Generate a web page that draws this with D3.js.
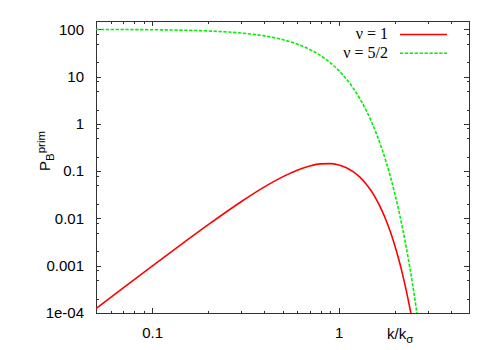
<!DOCTYPE html>
<html>
<head>
<meta charset="utf-8">
<script src="https://cdn.jsdelivr.net/npm/d3@7"></script>
<style>
  html, body { margin: 0; padding: 0; background: #fff; }
  svg { display: block; }
  text { font-family: "Liberation Sans", Arial, sans-serif; fill: #000; }
  text.serif { font-family: "Liberation Serif", "Times New Roman", serif; }
</style>
</head>
<body>
<svg id="chart" width="500" height="350"></svg>
<script>
// ---- data ----
const kValues = [0.05, 0.07, 0.1, 0.15, 0.2, 0.3, 0.4, 0.5, 0.6, 0.7, 0.8, 0.9, 1.0, 1.1, 1.2, 1.3, 1.4, 1.5, 1.6, 1.7, 1.8, 1.9, 2.0, 2.1, 2.2, 2.3, 2.4, 2.45];
const nu1Values = [1.244e-4, 3.40e-4, 9.80e-4, 3.227e-3, 7.385e-3, 0.02255, 0.04647, 0.07582, 0.10514, 0.12873, 0.14235, 0.14427, 0.13534, 0.11836, 0.09700, 0.07481, 0.05444, 0.03749, 0.02448, 0.01518, 0.008946, 0.005019, 0.002684, 0.001369, 6.660e-4, 3.094e-4, 1.373e-4, 9.0e-5];

const kValues2 = [0.05, 0.1, 0.15, 0.2, 0.3, 0.4, 0.5, 0.6, 0.7, 0.8, 0.9, 1.0, 1.1, 1.2, 1.3, 1.4, 1.5, 1.6, 1.7, 1.8, 1.9, 2.0, 2.1, 2.2, 2.3, 2.4, 2.5, 2.6, 2.7];
const nu52Values = [99.50, 98.02, 95.60, 92.31, 83.53, 72.61, 60.65, 48.68, 37.53, 27.80, 19.79, 13.53, 8.892, 5.613, 3.405, 1.984, 1.111, 0.5976, 0.3089, 0.1534, 0.07318, 0.03355, 0.01478, 0.006255, 0.002543, 9.93e-4, 3.727e-4, 1.344e-4, 4.66e-5];

const seriesNames = ["ν = 1", "ν = 5/2"];
const xTickValues = [0.1, 1];
const xTickLabels = ["0.1", "1"];
const yTickValues = [1e-4, 1e-3, 1e-2, 0.1, 1, 10, 100];
const yTickLabels = ["1e-04", "0.001", "0.01", "0.1", "1", "10", "100"];
const xDomain = [0.05, 5];
const yDomain = [1e-4, 150];

// ---- layout ----
const svg = d3.select("#chart");
const L = 96, R = 469, T = 21, B = 313;
const x = d3.scaleLog().domain(xDomain).range([L, R]);
const y = d3.scaleLog().domain(yDomain).range([B, T]);

// minor ticks
const xMinor = [];
[0.01, 0.1, 1].forEach(d => { for (let m = 2; m <= 9; m++) { const v = d * m; if (v >= xDomain[0] && v <= xDomain[1]) xMinor.push(v); } });
const yMinor = [];
[1e-4, 1e-3, 1e-2, 0.1, 1, 10, 100].forEach(d => { [2, 5, 8].forEach(m => { const v = d * m; if (v > yDomain[0] && v < yDomain[1]) yMinor.push(v); }); });

const axisColor = "#333";
const g = svg.append("g");

function addAxis(axis, transform) {
  const a = g.append("g").attr("transform", transform).call(axis);
  a.select(".domain").remove();
  a.selectAll(".tick line").attr("stroke", axisColor).attr("shape-rendering", "crispEdges");
  return a;
}
const xb = addAxis(d3.axisBottom(x).tickValues(xTickValues).tickSizeInner(-5).tickSizeOuter(0)
  .tickFormat((d, i) => xTickLabels[i]).tickPadding(14), `translate(0,${B})`);
xb.selectAll("text").attr("font-size", 15).attr("fill", "#000");
addAxis(d3.axisBottom(x).tickValues(xMinor).tickSizeInner(-2.5).tickSizeOuter(0).tickFormat(""), `translate(0,${B})`);
addAxis(d3.axisTop(x).tickValues(xTickValues).tickSizeInner(-5).tickSizeOuter(0).tickFormat(""), `translate(0,${T})`);
addAxis(d3.axisTop(x).tickValues(xMinor).tickSizeInner(-2.5).tickSizeOuter(0).tickFormat(""), `translate(0,${T})`);

const yl = addAxis(d3.axisLeft(y).tickValues(yTickValues).tickSizeInner(-5).tickSizeOuter(0)
  .tickFormat((d, i) => yTickLabels[i]).tickPadding(12), `translate(${L},0)`);
yl.selectAll("text").attr("font-size", 15).attr("fill", "#000");
addAxis(d3.axisLeft(y).tickValues(yMinor).tickSizeInner(-2.5).tickSizeOuter(0).tickFormat(""), `translate(${L},0)`);
addAxis(d3.axisRight(y).tickValues(yTickValues).tickSizeInner(-5).tickSizeOuter(0).tickFormat(""), `translate(${R},0)`);
addAxis(d3.axisRight(y).tickValues(yMinor).tickSizeInner(-2.5).tickSizeOuter(0).tickFormat(""), `translate(${R},0)`);

// frame
g.append("rect").attr("x", L + 0.5).attr("y", T + 0.5).attr("width", R - L).attr("height", B - T)
  .attr("fill", "none").attr("stroke", axisColor).attr("stroke-width", 1);

// clip
svg.append("clipPath").attr("id", "clip").append("rect")
  .attr("x", L).attr("y", T).attr("width", R - L).attr("height", B - T);

const line = d3.line().x(d => x(d[0])).y(d => y(d[1])).curve(d3.curveMonotoneX);
const red = kValues.map((k, i) => [k, nu1Values[i]]);
const green = kValues2.map((k, i) => [k, nu52Values[i]]);

const plot = svg.append("g").attr("clip-path", "url(#clip)");
plot.append("path").datum(red).attr("d", line).attr("fill", "none")
  .attr("stroke", "#ff0000").attr("stroke-width", 1.6);
plot.append("path").datum(green).attr("d", line).attr("fill", "none")
  .attr("stroke", "#00f000").attr("stroke-width", 1.6).attr("stroke-dasharray", "3.3,1.6");

// legend
const legend = svg.append("g");
const legColors = ["#ff0000", "#00f000"];
const legDash = [null, "3.3,1.6"];
seriesNames.forEach((name, i) => {
  const yy = 34.5 + i * 18.7;
  legend.append("text").attr("class", "serif").attr("x", 388).attr("y", yy + 4.5).attr("text-anchor", "end")
    .attr("font-size", 16).text(name);
  legend.append("line").attr("x1", 400).attr("x2", 447).attr("y1", yy).attr("y2", yy)
    .attr("stroke", legColors[i]).attr("stroke-width", 1.6).attr("stroke-dasharray", legDash[i]);
});

// y-axis label P_B^prim
const ylab = svg.append("text").attr("transform", "translate(50,171) rotate(-90)").attr("font-size", 15);
ylab.append("tspan").text("P");
ylab.append("tspan").attr("font-size", 11.5).attr("dy", 4).text("B");
ylab.append("tspan").attr("font-size", 11.5).attr("dy", -9.5).text("prim");

// x-axis label k/k_σ
const xlab = svg.append("text").attr("x", 387).attr("y", 339).attr("font-size", 15);
xlab.append("tspan").text("k/k");
xlab.append("tspan").attr("font-size", 11.5).attr("dy", 4).text("σ");
</script>
</body>
</html>
